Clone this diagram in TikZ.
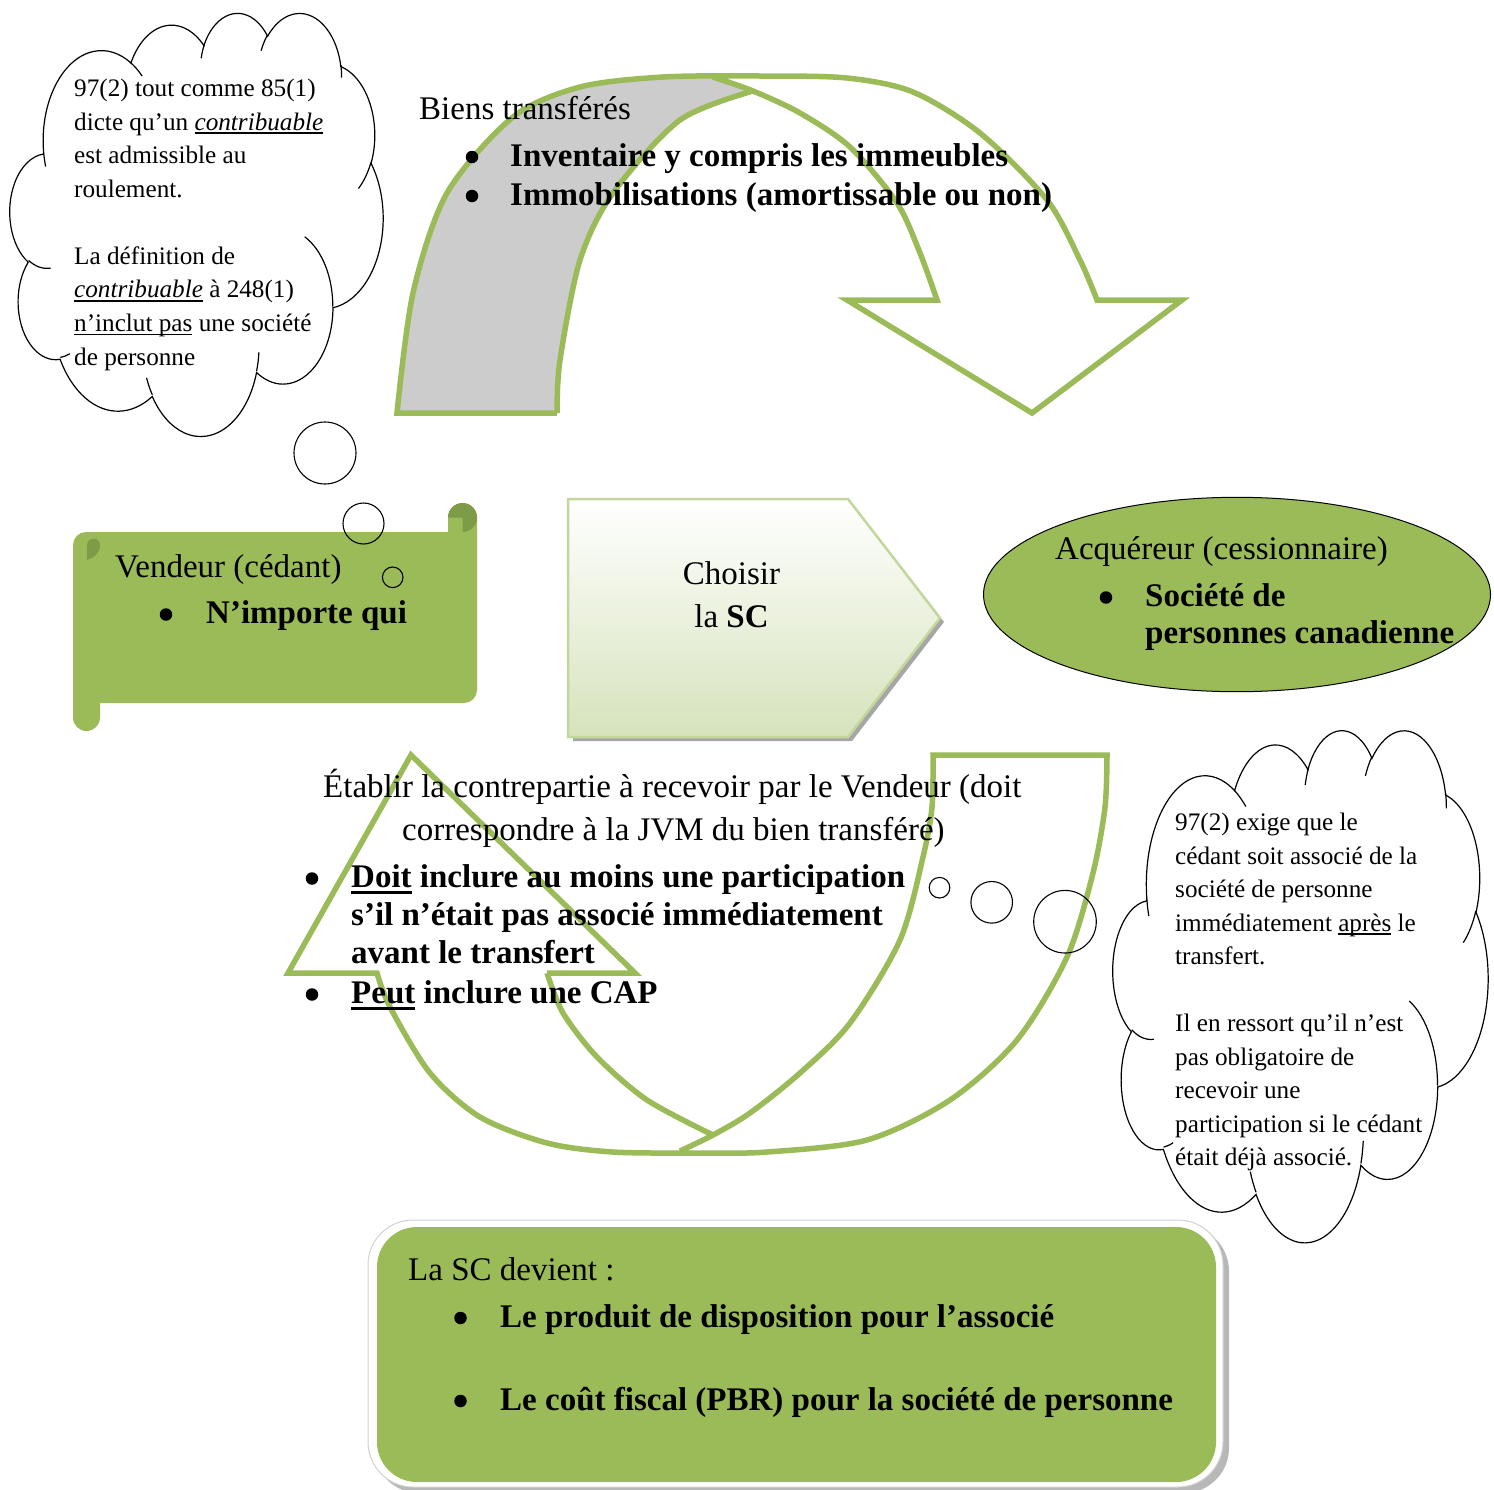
\documentclass[tikz,border=0pt]{standalone}
\usepackage{fontspec}
\setmainfont{Liberation Serif}
\definecolor{ogreen}{HTML}{9BBB59}
\definecolor{ogreendk}{HTML}{7E9B47}
\definecolor{greyfill}{HTML}{CCCCCC}
\definecolor{chevbot}{HTML}{D6E3BC}
\definecolor{chevline}{HTML}{C3D69B}
\newcommand\ulS[1]{\leavevmode\setbox0=\hbox{#1}\rlap{\rule[-4pt]{\wd0}{1.8pt}}\box0\relax}
\newcommand\ulB[1]{\leavevmode\setbox0=\hbox{#1}\rlap{\rule[-7.3pt]{\wd0}{3pt}}\box0\relax}
\newcommand\cloudarc[4]{\pgfextra{%
  \pgfmathsetmacro\cldS{atan2((#1)*sin(#3),(#2)*cos(#3))}%
  \pgfmathsetmacro\cldE{atan2((#1)*sin((#3)+(#4)),(#2)*cos((#3)+(#4)))}%
  \pgfmathsetmacro\cldE{ifthenelse(\cldE<\cldS,\cldE+360,\cldE)}%
  \global\let\cldS\cldS \global\let\cldE\cldE}%
  arc[start angle=\cldS, end angle=\cldE, x radius=#1, y radius=#2]}
\newcommand\officecloud{%
  \path[cloudst] (390,1437)
    \cloudarc{675.3}{919.0}{-190.48748}{123.78053}
    \cloudarc{533.3}{726.7}{-144.10238}{89.94523}
    \cloudarc{436.5}{594.5}{-145.80792}{99.72302}
    \cloudarc{485.7}{659.5}{-130.98607}{117.24173}
    \cloudarc{533.3}{727.3}{-78.70888}{109.02692}
    \cloudarc{677.5}{922.0}{-46.26725}{130.269}
    \cloudarc{578.5}{786.7}{0.62502}{114.03333}
    \cloudarc{675.2}{921.5}{22.4516}{115.17255}
    \cloudarc{772.0}{1054.3}{66.24263}{75.71102}
    \cloudarc{436.0}{591.8}{-274.94208}{146.73557}
    \cloudarc{434.5}{594.5}{-246.8285}{152.51885}
    -- cycle;
  \path[cloudin]
    (469.3,2617.7) \cloudarc{434.5}{594.5}{86.742}{26.4295}
    (692.8,3489.9) \cloudarc{436.0}{591.8}{73.6105}{11.4475}
    (1647.8,3909.0) \cloudarc{675.2}{921.5}{137.6242}{14.0811}
    (2882.7,3475.1) \cloudarc{675.2}{921.5}{6.4533}{15.9984}
    (3412.9,2295.4) \cloudarc{578.5}{786.7}{-70.2924}{70.9174}
    (4179.8,1535.4) \cloudarc{533.3}{727.3}{30.318}{27.7515}
    (3832.4,542.6) \cloudarc{485.7}{659.5}{-13.7443}{14.8589}
    (2907.8,395.2) \cloudarc{485.7}{659.5}{-149.1815}{18.1954}
    (2214.1,472.0) \cloudarc{436.5}{594.5}{-163.4943}{17.6864}
    (1400.0,519.2) \cloudarc{675.3}{919.0}{-66.707}{12.3194}
    (412.7,1578.9) \cloudarc{675.3}{919.0}{157.6544}{11.8582};
}
\begin{document}
\begin{tikzpicture}[x=1pt,y=-1pt,
  tn/.style={inner sep=0pt, anchor=base west, font=\fontsize{33}{40}\selectfont},
  tb/.style={inner sep=0pt, anchor=base west, font=\fontsize{33}{40}\selectfont\bfseries},
  ts/.style={inner sep=0pt, anchor=base west, font=\fontsize{25.2}{33}\selectfont},
  bdot/.style={circle, fill=black, inner sep=0pt, minimum size=12.5pt},
  arrowline/.style={draw=ogreen, line width=5.5pt, line join=miter, miter limit=20},
  bubble/.style={draw=black, line width=1.1pt},
  cloudst/.style={fill=white, draw=black, line width=1.2pt},
  cloudin/.style={draw=black, line width=1.2pt}]
\useasboundingbox (0,0) rectangle (1494,1489);

% ---------- top circular arrow ----------
\fill[greyfill] plot[smooth] coordinates {(397,413) (413,293) (447,193) (513,117) (580,87) (663,77) (713,76)}
  -- (753,91) -- plot[smooth] coordinates {(753,91) (680,120) (613,193) (580,260) (560,360) (557,413)} -- cycle;
\draw[arrowline] (557,413) -- (397,413) -- plot[smooth] coordinates {(397,413) (413,293) (447,193) (513,117) (580,87) (663,77) (760,76) (847,78) (913,92) (980,133) (1047,200) (1080,260) (1097,300)}
  -- (1182,300) -- (1032,413) -- (847,300) -- (937,300)
  -- plot[smooth] coordinates {(937,300) (920,253) (897,203) (850,147) (800,113) (753,91) (713,77)};
\draw[arrowline] plot[smooth] coordinates {(557,413) (560,360) (580,260) (613,193) (680,120) (753,91)};

% ---------- bottom circular arrow ----------
\draw[arrowline] (547,973) -- (635,973) -- (411,755) -- (288,973) -- (377,973)
  -- plot[smooth] coordinates {(377,973) (390,1007) (430,1073) (480,1117) (547,1143) (613,1152) (700,1153) (767,1152) (867,1140) (950,1100) (1017,1040) (1067,957) (1093,873) (1105,807) (1107,755)}
  -- (933,755)
  -- plot[smooth] coordinates {(933,755) (932,807) (923,857) (900,940) (850,1023) (800,1073) (750,1113) (713,1135) (680,1151)};
\draw[arrowline] plot[smooth] coordinates {(547,973) (563,1013) (597,1057) (647,1100) (713,1135)};

% ---------- scroll (Vendeur) ----------
\path[fill=ogreen] (86,532) -- (448,532) -- (448,517.5) arc[start angle=180, end angle=360, radius=14.5]
  -- (477,690) arc[start angle=0, end angle=90, radius=13] -- (100,703) -- (100,717.5)
  arc[start angle=0, end angle=180, radius=13.5] -- (73,545) arc[start angle=180, end angle=270, radius=13] -- cycle;
\fill[ogreendk] (462.5,517.5) -- (448,517.5) arc[start angle=180, end angle=450, radius=14.5] -- cycle;
\fill[ogreendk] (87,560) -- (87,545) arc[start angle=180, end angle=360, radius=6.5] .. controls (100,553) and (94,558) .. (87,560) -- cycle;

% ---------- chevron ----------
\fill[black!35] (573,503) -- (852,503) -- (944,622) -- (852,741) -- (573,741) -- cycle;
\path[draw=chevline, line width=2.5pt, top color=white, bottom color=chevbot]
  (568,499) -- (848,499) -- (940,618) -- (848,737) -- (568,737) -- cycle;

% ---------- ellipse ----------
\path[fill=ogreen, draw=black, line width=1pt] (1237,594.5) ellipse[x radius=253.5, y radius=97.2];

% ---------- bottom box ----------
\fill[black!28, rounded corners=45pt] (374,1226) rectangle (1229,1493);
\path[fill=white, draw=black!18, line width=1pt, rounded corners=45pt] (368,1220) rectangle (1223,1487);
\fill[ogreen, rounded corners=40pt] (377,1227) rectangle (1216,1482);

% ---------- clouds ----------
\begin{scope}[shift={(10,12)}, x=0.086343pt, y=-0.097917pt]
\officecloud
\end{scope}
\begin{scope}[shift={(1113,729)}, x=0.086806pt, y=-0.118519pt]
\officecloud
\end{scope}
\draw[bubble] (325,453) circle[radius=31];
\draw[bubble] (363.5,523.5) circle[radius=20.5];
\draw[bubble] (392.7,577.3) circle[radius=10.3];
\draw[bubble] (939.5,887.7) circle[radius=10.3];
\draw[bubble] (991.7,902.3) circle[radius=20.8];
\draw[bubble] (1065,921.7) circle[radius=31.3];

% ---------- texts ----------
\node[tn] (biens) at (419,119) {Biens transférés};
\node[bdot] (bi1) at (472,157) {};
\node[tb] (inv) at (510,166) {Inventaire y compris les immeubles};
\node[bdot] (bi2) at (472,196) {};
\node[tb] (immo) at (510,205) {Immobilisations (amortissable ou non)};

\node[tn] (vend) at (115,577) {Vendeur (cédant)};
\node[bdot] (bv) at (166,614.5) {};
\node[tb] (nimp) at (206,623) {N’importe qui};

\node[tn, anchor=base] (chois) at (731.5,584) {Choisir};
\node[tn, anchor=base] (lasc) at (731.5,627) {la \textbf{SC}};

\node[tn] (acq) at (1055,559) {Acquéreur (cessionnaire)};
\node[bdot] (ba) at (1106,597.5) {};
\node[tb] (soc1) at (1145,606) {Société de};
\node[tb] (soc2) at (1145,643) {personnes canadienne};

\node[tn] (etab1) at (323,797) {Établir la contrepartie à recevoir par le Vendeur (doit};
\node[tn] (etab2) at (402,840) {correspondre à la JVM du bien transféré)};
\node[bdot] (be1) at (312,878.5) {};
\node[tb] (doit1) at (351,887) {\ulB{Doit} inclure au moins une participation};
\node[tb] (doit2) at (351,925) {s’il n’était pas associé immédiatement};
\node[tb] (doit3) at (351,963) {avant le transfert};
\node[bdot] (be2) at (312,994.5) {};
\node[tb] (peut) at (351,1003) {\ulB{Peut} inclure une CAP};

\node[tn] (lasc2) at (408,1280) {La SC devient :};
\node[bdot] (bb1) at (460.5,1318) {};
\node[tb] (prod) at (500,1327) {Le produit de disposition pour l’associé};
\node[bdot] (bb2) at (460.5,1401) {};
\node[tb] (cout) at (500,1410) {Le coût fiscal (PBR) pour la société de personne};

\node[ts] (lc1) at (74,96.7) {97(2) tout comme 85(1)};
\node[ts] (lc2) at (74,130) {dicte qu’un \textit{\ulS{contribuable}}};
\node[ts] (lc3) at (74,163.5) {est admissible au};
\node[ts] (lc4) at (74,197.2) {roulement.};
\node[ts] (lc5) at (74,264.5) {La définition de};
\node[ts] (lc6) at (74,297.8) {\textit{\ulS{contribuable}} à 248(1)};
\node[ts] (lc7) at (74,331.3) {\ulS{n’inclut pas} une société};
\node[ts] (lc8) at (74,365) {de personne};

\node[ts] (rc1) at (1175,830.7) {97(2) exige que le};
\node[ts] (rc2) at (1175,864) {cédant soit associé de la};
\node[ts] (rc3) at (1175,897.5) {société de personne};
\node[ts] (rc4) at (1175,931) {immédiatement \ulS{après} le};
\node[ts] (rc5) at (1175,964.5) {transfert.};
\node[ts] (rc6) at (1175,1031.5) {Il en ressort qu’il n’est};
\node[ts] (rc7) at (1175,1065) {pas obligatoire de};
\node[ts] (rc8) at (1175,1098.5) {recevoir une};
\node[ts] (rc9) at (1175,1132) {participation si le cédant};
\node[ts] (rc10) at (1175,1165.5) {était déjà associé.};
\end{tikzpicture}
\end{document}
